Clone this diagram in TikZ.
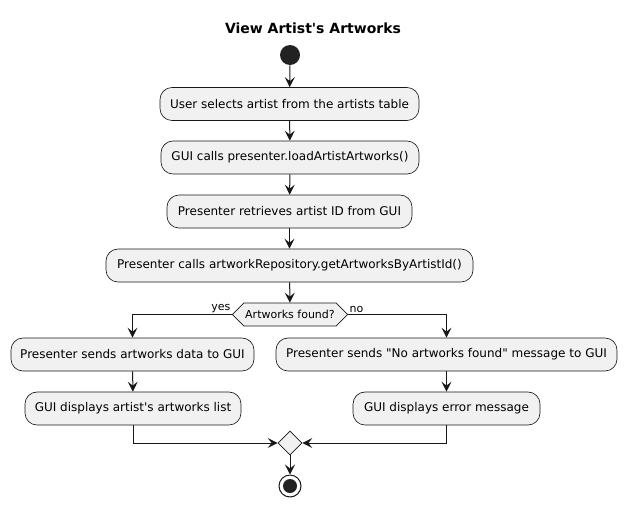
\documentclass[tikz,border=0pt]{standalone}
\usepackage{fontspec}
\setmainfont{DejaVu Sans}[Ligatures=TeXOff]
\usetikzlibrary{shapes.geometric,shapes.symbols,arrows.meta}
\definecolor{boxfill}{HTML}{F1F1F1}
\definecolor{ink}{HTML}{181818}
\definecolor{dot}{HTML}{222222}
\tikzset{
  act/.style={draw=ink,line width=0.5pt,fill=boxfill,rounded corners=9pt,minimum height=24.75pt,inner sep=0pt,font=\fontsize{9}{11}\selectfont,align=center},
  dec/.style={draw=ink,line width=0.5pt,fill=boxfill,shape=signal,signal to=west and east,signal pointer angle=90,inner xsep=1pt,inner ysep=0pt,minimum height=17.25pt,font=\fontsize{8.25}{10}\selectfont},
  merge/.style={draw=ink,line width=0.5pt,fill=boxfill,shape=diamond,minimum size=18pt,inner sep=0pt},
  conn/.style={draw=ink,line width=0.75pt,-{Stealth[length=7.5pt,width=7.5pt,inset=3pt]}},
  lbl/.style={font=\fontsize{8.25}{10}\selectfont,inner sep=0pt}
}
\begin{document}
\begin{tikzpicture}[x=0.75pt,y=-0.75pt]
\useasboundingbox (0,0) rectangle (627,507);
\node[font=\bfseries\fontsize{10.5}{12}\selectfont] (title) at (313,28) {View Artist's Artworks};
\node[circle,fill=dot,minimum size=15pt,inner sep=0pt] (start) at (290,55) {};
\node[act,minimum width=194.25pt] (b1) at (289.5,104) {User selects artist from the artists table};
\node[act,minimum width=193.5pt] (b2) at (290,157.5) {GUI calls presenter.loadArtistArtworks()};
\node[act,minimum width=183.75pt] (b3) at (289.5,211.5) {Presenter retrieves artist ID from GUI};
\node[act,minimum width=275.25pt] (b4) at (289.5,265.5) {Presenter calls artworkRepository.getArtworksByArtistId()};
\node[dec,minimum width=85.5pt] (d) at (290,314.5) {Artworks found?};
\node[act,minimum width=182.25pt] (b5) at (132.5,354.5) {Presenter sends artworks data to GUI};
\node[act,minimum width=162pt] (b6) at (133,408.5) {GUI displays artist's artworks list};
\node[act,minimum width=255.75pt] (b7) at (446.5,354.5) {Presenter sends "No artworks found" message to GUI};
\node[act,minimum width=140.25pt] (b8) at (446.5,408.5) {GUI displays error message};
\node[merge] (m) at (290,443) {};
\node[circle,draw=ink,line width=0.75pt,fill=white,minimum size=16.5pt,inner sep=0pt] (end) at (290,486) {};
\node[circle,fill=dot,minimum size=10.5pt,inner sep=0pt] (endin) at (end) {};
\draw[conn] (start) -- (b1);
\draw[conn] (b1) -- (b2);
\draw[conn] (b2) -- (b3);
\draw[conn] (b3) -- (b4);
\draw[conn] (b4) -- (d);
\draw[conn] (d.west) -| (b5.north);
\draw[conn] (d.east) -| (b7.north);
\draw[conn] (b5) -- (b6);
\draw[conn] (b7) -- (b8);
\draw[conn] (b6.south) |- (m.west);
\draw[conn] (b8.south) |- (m.east);
\draw[conn] (m) -- (end);
\node[lbl,anchor=south east] (yes) at ([xshift=-1pt,yshift=1pt]d.west) {yes};
\node[lbl,anchor=south west] (no) at ([xshift=1pt,yshift=1pt]d.east) {no};
\end{tikzpicture}
\end{document}
